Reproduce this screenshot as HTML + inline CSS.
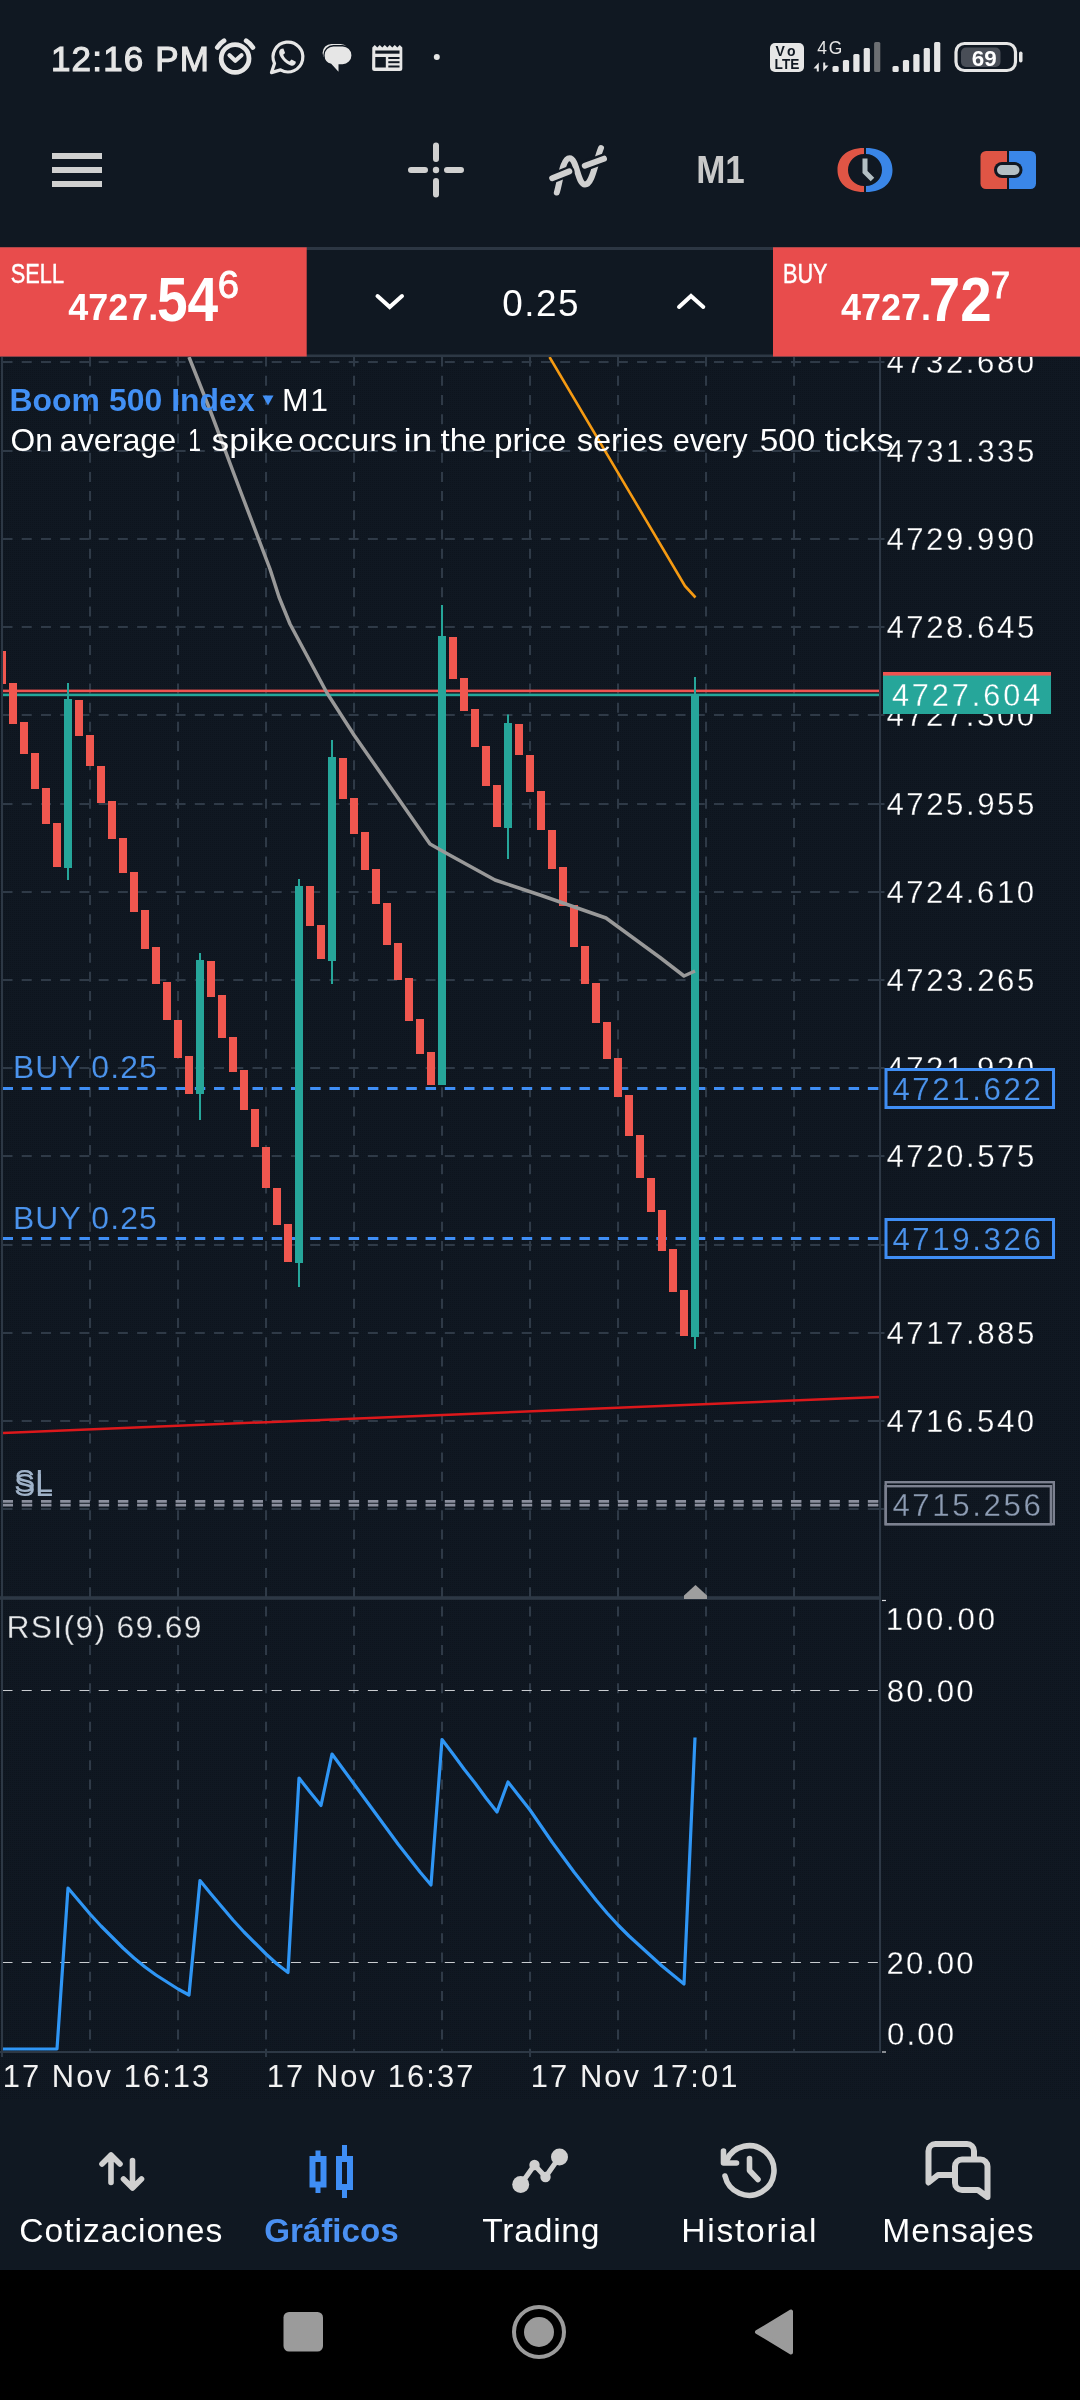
<!DOCTYPE html>
<html lang="es"><head><meta charset="utf-8"><title>Boom 500 Index, M1</title>
<meta name="viewport" content="width=1080">
<style>html,body{margin:0;padding:0;background:#101822;}body{width:1080px;height:2400px;overflow:hidden;}svg{display:block;will-change:transform;}</style>
</head><body>
<svg width="1080" height="2400" viewBox="0 0 1080 2400" font-family="'Liberation Sans', sans-serif">
<rect width="1080" height="2400" fill="#101822"/>
<defs><clipPath id="cp"><rect x="3" y="357" width="877" height="1695"/></clipPath></defs>
<defs><pattern id="dt" width="2" height="2" patternUnits="userSpaceOnUse"><rect width="1" height="1" fill="#0a1119"/></pattern></defs>
<rect x="0" y="357" width="1080" height="1742" fill="url(#dt)" opacity="0.55"/>
<g id="chart">
<g stroke="#2f3a47" stroke-width="2" stroke-dasharray="10 9.23" fill="none">
<path d="M90 356.5V2051"/>
<path d="M178 356.5V2051"/>
<path d="M266 356.5V2051"/>
<path d="M354 356.5V2051"/>
<path d="M442 356.5V2051"/>
<path d="M530 356.5V2051"/>
<path d="M618 356.5V2051"/>
<path d="M706 356.5V2051"/>
<path d="M794 356.5V2051"/>
<path d="M2.5 362.0H879"/>
<path d="M2.5 451.0H879"/>
<path d="M2.5 539.0H879"/>
<path d="M2.5 627.0H879"/>
<path d="M2.5 715.0H879"/>
<path d="M2.5 804.0H879"/>
<path d="M2.5 892.0H879"/>
<path d="M2.5 980.0H879"/>
<path d="M2.5 1068.0H879"/>
<path d="M2.5 1156.0H879"/>
<path d="M2.5 1245.0H879"/>
<path d="M2.5 1333.0H879"/>
<path d="M2.5 1421.0H879"/>
<path d="M2.5 1509.0H879"/>
</g>
<rect x="872" y="361" width="12.5" height="2" fill="#2f3a47"/>
<rect x="872" y="450" width="12.5" height="2" fill="#2f3a47"/>
<rect x="872" y="538" width="12.5" height="2" fill="#2f3a47"/>
<rect x="872" y="626" width="12.5" height="2" fill="#2f3a47"/>
<rect x="872" y="714" width="12.5" height="2" fill="#2f3a47"/>
<rect x="872" y="803" width="12.5" height="2" fill="#2f3a47"/>
<rect x="872" y="891" width="12.5" height="2" fill="#2f3a47"/>
<rect x="872" y="979" width="12.5" height="2" fill="#2f3a47"/>
<rect x="872" y="1067" width="12.5" height="2" fill="#2f3a47"/>
<rect x="872" y="1155" width="12.5" height="2" fill="#2f3a47"/>
<rect x="872" y="1244" width="12.5" height="2" fill="#2f3a47"/>
<rect x="872" y="1332" width="12.5" height="2" fill="#2f3a47"/>
<rect x="872" y="1420" width="12.5" height="2" fill="#2f3a47"/>
<rect x="872" y="1508" width="12.5" height="2" fill="#2f3a47"/>
<g stroke="#c9ccd0" stroke-width="1.2" stroke-dasharray="10 9.23" fill="none">
<path d="M2.5 1690.5H885"/><path d="M2.5 1962.5H885"/></g>
<g clip-path="url(#cp)">
<rect x="3" y="689.6" width="876" height="2.6" fill="#ef5350"/>
<rect x="3" y="693.6" width="876" height="2.6" fill="#26a69a"/>
<g stroke="#3f8ef5" stroke-width="3" stroke-dasharray="10.5 8.73" fill="none">
<path d="M2.5 1088.5H879"/><path d="M2.5 1238.5H879"/></g>
<g stroke="#8b8f9d" stroke-width="2.8" stroke-dasharray="10.5 8.73" fill="none">
<path d="M2.5 1501.4H879"/><path d="M2.5 1505.1H879"/></g>
<g fill="#f0574f">
<rect x="-2" y="651" width="8" height="33"/>
<rect x="9" y="683" width="8" height="41"/>
<rect x="20" y="722" width="8" height="32"/>
<rect x="31" y="753" width="8" height="36"/>
<rect x="42" y="788" width="8" height="36"/>
<rect x="53" y="823" width="8" height="44"/>
<rect x="75" y="700" width="8" height="36"/>
<rect x="86" y="735" width="8" height="31"/>
<rect x="97" y="766" width="8" height="37"/>
<rect x="108" y="801" width="8" height="38"/>
<rect x="119" y="838" width="8" height="35"/>
<rect x="130" y="872" width="8" height="40"/>
<rect x="141" y="910" width="8" height="39"/>
<rect x="152" y="947" width="8" height="37"/>
<rect x="163" y="982" width="8" height="38"/>
<rect x="174" y="1020" width="8" height="38"/>
<rect x="185" y="1056" width="8" height="38"/>
<rect x="207" y="961" width="8" height="36"/>
<rect x="218" y="995" width="8" height="43"/>
<rect x="229" y="1037" width="8" height="35"/>
<rect x="240" y="1070" width="8" height="40"/>
<rect x="251" y="1109" width="8" height="38"/>
<rect x="262" y="1147" width="8" height="41"/>
<rect x="273" y="1188" width="8" height="37"/>
<rect x="284" y="1224" width="8" height="38"/>
<rect x="306" y="886" width="8" height="40"/>
<rect x="317" y="925" width="8" height="34"/>
<rect x="339" y="758" width="8" height="41"/>
<rect x="350" y="798" width="8" height="36"/>
<rect x="361" y="832" width="8" height="38"/>
<rect x="372" y="869" width="8" height="35"/>
<rect x="383" y="903" width="8" height="42"/>
<rect x="394" y="943" width="8" height="37"/>
<rect x="405" y="978" width="8" height="43"/>
<rect x="416" y="1019" width="8" height="35"/>
<rect x="427" y="1052" width="8" height="33"/>
<rect x="449" y="637" width="8" height="42"/>
<rect x="460" y="678" width="8" height="33"/>
<rect x="471" y="709" width="8" height="38"/>
<rect x="482" y="746" width="8" height="40"/>
<rect x="493" y="785" width="8" height="42"/>
<rect x="515" y="724" width="8" height="31"/>
<rect x="526" y="755" width="8" height="37"/>
<rect x="537" y="791" width="8" height="39"/>
<rect x="548" y="830" width="8" height="39"/>
<rect x="559" y="867" width="8" height="39"/>
<rect x="570" y="905" width="8" height="42"/>
<rect x="581" y="946" width="8" height="38"/>
<rect x="592" y="983" width="8" height="40"/>
<rect x="603" y="1022" width="8" height="37"/>
<rect x="614" y="1058" width="8" height="39"/>
<rect x="625" y="1095" width="8" height="41"/>
<rect x="636" y="1135" width="8" height="43"/>
<rect x="647" y="1178" width="8" height="34"/>
<rect x="658" y="1210" width="8" height="41"/>
<rect x="669" y="1249" width="8" height="43"/>
<rect x="680" y="1290" width="8" height="46"/>
</g>
<g fill="#26a69a">
<rect x="64" y="699" width="8" height="169"/><rect x="67" y="683" width="2" height="197"/>
<rect x="196" y="960" width="8" height="134"/><rect x="199" y="953" width="2" height="167"/>
<rect x="295" y="886" width="8" height="377"/><rect x="298" y="879" width="2" height="408"/>
<rect x="328" y="757" width="8" height="204"/><rect x="331" y="740" width="2" height="244"/>
<rect x="438" y="636" width="8" height="449"/><rect x="441" y="605" width="2" height="480"/>
<rect x="504" y="723" width="8" height="105"/><rect x="507" y="714.5" width="2" height="144.5"/>
<rect x="691" y="695" width="8" height="642"/><rect x="694" y="677" width="2" height="672"/>
</g>
<polyline fill="none" stroke="#999999" stroke-width="3.5" stroke-linejoin="round" points="189,357 210,410 240,490 270,569 279,597 290,624 327,693 354,735 430,844 445,852.5 495,880 540,895 606,918 660,957.5 684,976 695,971"/>
<polyline fill="none" stroke="#f59a12" stroke-width="2.6" stroke-linejoin="round" points="549.5,357 685,586 695.5,597.5"/>
<path d="M3 1433L879 1397" stroke="#dc181b" stroke-width="2.5" fill="none"/>
<polyline fill="none" stroke="#2f96f5" stroke-width="3.2" stroke-linejoin="round" points="2,2049 13,2049 24,2049 35,2049 46,2049 57,2049 68,1888 79,1901 90,1914 101,1926 112,1937 123,1948 134,1958 145,1967 156,1975 167,1982 178,1989 189,1995 200,1880.5 211,1894 222,1907 233,1920 244,1932 255,1943 266,1954 277,1964 288,1972.5 299,1778 310,1792 321,1805.5 332,1754 343,1769 354,1784 365,1799 376,1814 387,1829 398,1844 409,1858 420,1872 431,1885 442,1739.5 453,1754 464,1769 475,1783 486,1798 497,1812 508,1782 519,1796 530,1810 541,1826 552,1842 563,1857 574,1872 585,1886 596,1900 607,1913 618,1925 629,1936 640,1946 651,1956 662,1966 673,1975 684,1984 695,1737.5"/>
</g>
<rect x="1" y="357" width="2" height="1695" fill="#2d3845"/>
<rect x="879" y="357" width="2" height="1696" fill="#2d3845"/>
<rect x="0" y="1596.200" width="881" height="3.600" fill="#2d3845"/>
<rect x="0" y="2051" width="881" height="2" fill="#2d3845"/>
<rect x="1" y="2051" width="2" height="6" fill="#2d3845"/>
<rect x="265" y="2051" width="2" height="6" fill="#2d3845"/>
<rect x="529" y="2051" width="2" height="6" fill="#2d3845"/>
<path d="M684 1599V1595.500L695.500 1585L707 1595.500V1599Z" fill="#9e9e9e"/>
<rect x="882" y="1599.9" width="4" height="1.2" fill="#d8dadd"/>
<rect x="882" y="2051.4" width="4" height="1.2" fill="#d8dadd"/>
</g>
<g id="labels">
<text x="9.43" y="410.5" font-size="31.88" font-weight="bold" fill="#4290f5" text-anchor="start" textLength="245.20" lengthAdjust="spacing">Boom 500 Index</text>
<path d="M262.5 395.5H273.5L268 405.5Z" fill="#4290f5"/>
<text x="281.95" y="410.5" font-size="31.88" font-weight="normal" fill="#fff" text-anchor="start" textLength="45.96" lengthAdjust="spacing">M1</text>
<text y="450.7" font-size="31.30" font-weight="normal" fill="#fff"><tspan x="10.57" textLength="42.30" lengthAdjust="spacingAndGlyphs">On</tspan> <tspan x="59.71" textLength="116.54" lengthAdjust="spacingAndGlyphs">average</tspan> <tspan x="188.28" textLength="12.79" lengthAdjust="spacingAndGlyphs">1</tspan> <tspan x="211.62" textLength="82.27" lengthAdjust="spacingAndGlyphs">spike</tspan> <tspan x="298.16" textLength="99.03" lengthAdjust="spacingAndGlyphs">occurs</tspan> <tspan x="403.60" textLength="28.74" lengthAdjust="spacingAndGlyphs">in</tspan> <tspan x="440.51" textLength="45.82" lengthAdjust="spacingAndGlyphs">the</tspan> <tspan x="494.00" textLength="72.43" lengthAdjust="spacingAndGlyphs">price</tspan> <tspan x="576.69" textLength="86.88" lengthAdjust="spacingAndGlyphs">series</tspan> <tspan x="672.78" textLength="74.73" lengthAdjust="spacingAndGlyphs">every</tspan> <tspan x="759.67" textLength="55.62" lengthAdjust="spacingAndGlyphs">500</tspan> <tspan x="824.48" textLength="69.23" lengthAdjust="spacingAndGlyphs">ticks</tspan></text>
<text x="12.95" y="1078.0" font-size="31.88" font-weight="normal" fill="#4b93ec" text-anchor="start" textLength="143.90" lengthAdjust="spacing" stroke="#101822" stroke-width="0.15">BUY 0.25</text>
<text x="12.95" y="1228.5" font-size="31.88" font-weight="normal" fill="#4b93ec" text-anchor="start" textLength="143.90" lengthAdjust="spacing" stroke="#101822" stroke-width="0.15">BUY 0.25</text>
<text x="14.07" y="1491.5" font-size="31.88" font-weight="normal" fill="#9fb2c8" text-anchor="start" textLength="38.99" lengthAdjust="spacingAndGlyphs">SL</text>
<text x="14.07" y="1495.5" font-size="31.88" font-weight="normal" fill="#9fb2c8" text-anchor="start" textLength="38.99" lengthAdjust="spacingAndGlyphs">SL</text>
<text x="6.45" y="1638.0" font-size="31.88" font-weight="normal" fill="#e6e8ea" text-anchor="start" textLength="194.97" lengthAdjust="spacing" stroke="#101822" stroke-width="0.3">RSI(9) 69.69</text>
<text x="886.38" y="373.0" font-size="31.21" font-weight="normal" fill="#fff" text-anchor="start" textLength="147.75" lengthAdjust="spacing" stroke="#101822" stroke-width="0.3">4732.680</text>
<text x="886.38" y="462.0" font-size="31.21" font-weight="normal" fill="#fff" text-anchor="start" textLength="147.90" lengthAdjust="spacing" stroke="#101822" stroke-width="0.3">4731.335</text>
<text x="886.38" y="550.0" font-size="31.21" font-weight="normal" fill="#fff" text-anchor="start" textLength="147.75" lengthAdjust="spacing" stroke="#101822" stroke-width="0.3">4729.990</text>
<text x="886.38" y="638.0" font-size="31.21" font-weight="normal" fill="#fff" text-anchor="start" textLength="147.90" lengthAdjust="spacing" stroke="#101822" stroke-width="0.3">4728.645</text>
<text x="886.38" y="726.0" font-size="31.21" font-weight="normal" fill="#fff" text-anchor="start" textLength="147.75" lengthAdjust="spacing" stroke="#101822" stroke-width="0.3">4727.300</text>
<text x="886.38" y="815.0" font-size="31.21" font-weight="normal" fill="#fff" text-anchor="start" textLength="147.90" lengthAdjust="spacing" stroke="#101822" stroke-width="0.3">4725.955</text>
<text x="886.38" y="903.0" font-size="31.21" font-weight="normal" fill="#fff" text-anchor="start" textLength="147.75" lengthAdjust="spacing" stroke="#101822" stroke-width="0.3">4724.610</text>
<text x="886.38" y="991.0" font-size="31.21" font-weight="normal" fill="#fff" text-anchor="start" textLength="147.90" lengthAdjust="spacing" stroke="#101822" stroke-width="0.3">4723.265</text>
<text x="886.38" y="1079.0" font-size="31.21" font-weight="normal" fill="#fff" text-anchor="start" textLength="147.75" lengthAdjust="spacing" stroke="#101822" stroke-width="0.3">4721.920</text>
<text x="886.38" y="1167.0" font-size="31.21" font-weight="normal" fill="#fff" text-anchor="start" textLength="147.90" lengthAdjust="spacing" stroke="#101822" stroke-width="0.3">4720.575</text>
<text x="886.38" y="1344.0" font-size="31.21" font-weight="normal" fill="#fff" text-anchor="start" textLength="147.90" lengthAdjust="spacing" stroke="#101822" stroke-width="0.3">4717.885</text>
<text x="886.38" y="1432.0" font-size="31.21" font-weight="normal" fill="#fff" text-anchor="start" textLength="147.75" lengthAdjust="spacing" stroke="#101822" stroke-width="0.3">4716.540</text>
<rect x="883" y="672" width="168" height="42" fill="#26a69a"/><rect x="883" y="672" width="168" height="3.6" fill="#ef5350"/>
<text x="891.89" y="706.0" font-size="30.64" font-weight="normal" fill="#fff" text-anchor="start" textLength="148.41" lengthAdjust="spacing" stroke="#26a69a" stroke-width="0.3">4727.604</text>
<rect x="886" y="1069.5" width="167.5" height="38" fill="#101822"/><rect x="886" y="1069.5" width="167.5" height="38" fill="url(#dt)" opacity="0.55" stroke="none"/>
<rect x="886" y="1069.5" width="167.5" height="38" fill="none" stroke="#3f8ef5" stroke-width="3"/>
<text x="892.38" y="1099.5" font-size="31.21" font-weight="normal" fill="#4b93ec" text-anchor="start" textLength="148.56" lengthAdjust="spacing" stroke="#101822" stroke-width="0.15">4721.622</text>
<rect x="886" y="1219.5" width="167.5" height="38" fill="#101822"/><rect x="886" y="1219.5" width="167.5" height="38" fill="url(#dt)" opacity="0.55" stroke="none"/>
<rect x="886" y="1219.5" width="167.5" height="38" fill="none" stroke="#3f8ef5" stroke-width="3"/>
<text x="892.38" y="1249.5" font-size="31.21" font-weight="normal" fill="#4b93ec" text-anchor="start" textLength="148.40" lengthAdjust="spacing" stroke="#101822" stroke-width="0.15">4719.326</text>
<rect x="884" y="1480" width="172" height="46" fill="#101822"/><rect x="884" y="1480" width="172" height="46" fill="url(#dt)" opacity="0.55"/>
<rect x="885.7" y="1482.2" width="168.1" height="42" fill="none" stroke="#7c8190" stroke-width="2.4"/>
<rect x="885.7" y="1486.2" width="165.2" height="38" fill="none" stroke="#7c8190" stroke-width="2.4"/>
<text x="892.38" y="1516.0" font-size="31.21" font-weight="normal" fill="#8d9cb3" text-anchor="start" textLength="148.40" lengthAdjust="spacing" stroke="#101822" stroke-width="0.3">4715.256</text>
<text x="885.66" y="1629.5" font-size="31.21" font-weight="normal" fill="#fff" text-anchor="start" textLength="109.39" lengthAdjust="spacing" stroke="#101822" stroke-width="0.3">100.00</text>
<text x="886.75" y="1702.0" font-size="31.21" font-weight="normal" fill="#fff" text-anchor="start" textLength="86.92" lengthAdjust="spacing" stroke="#101822" stroke-width="0.3">80.00</text>
<text x="886.44" y="1974.0" font-size="31.21" font-weight="normal" fill="#fff" text-anchor="start" textLength="87.23" lengthAdjust="spacing" stroke="#101822" stroke-width="0.3">20.00</text>
<text x="886.91" y="2044.5" font-size="31.21" font-weight="normal" fill="#fff" text-anchor="start" textLength="67.23" lengthAdjust="spacing" stroke="#101822" stroke-width="0.3">0.00</text>
<text x="2.69" y="2086.5" font-size="30.86" font-weight="normal" fill="#f2f2f2" text-anchor="start" textLength="206.51" lengthAdjust="spacing">17 Nov 16:13</text>
<text x="266.69" y="2086.5" font-size="30.86" font-weight="normal" fill="#f2f2f2" text-anchor="start" textLength="206.67" lengthAdjust="spacing">17 Nov 16:37</text>
<text x="530.69" y="2086.5" font-size="30.86" font-weight="normal" fill="#f2f2f2" text-anchor="start" textLength="206.67" lengthAdjust="spacing">17 Nov 17:01</text>
</g>
<g id="status">
<text x="50.98" y="70.8" font-size="35.00" font-weight="normal" fill="#e6e6e6" text-anchor="start" textLength="158.04" lengthAdjust="spacing" stroke="#e6e6e6" stroke-width="1.1">12:16 PM</text>
<g fill="none" stroke="#e6e6e6" stroke-linecap="round">
<circle cx="235.1" cy="58.5" r="13.9" stroke-width="4.8"/>
<path d="M217.300 47.400A21 21 0 0 1 224 40.700M246.200 40.700A21 21 0 0 1 252.900 47.400" stroke-width="4.800"/>
<path d="M229.500 55.200L235.300 60.800L241.500 55.200" stroke-width="4.200" stroke-linejoin="round"/></g>
<g fill="none" stroke="#e6e6e6" stroke-width="3.200" stroke-linejoin="round">
<path d="M271.500 72.600L274.500 63.400A14.900 14.900 0 1 1 280.500 69.900Z"/></g>
<path d="M281.600 48.700c-1.500.3-2.700 2.000-2.400 4.200c.6 4.300 5.500 10.300 11.600 12.500c2.200.8 4.000-.3 4.700-1.800l.4-1.800l-4.400-2.400l-2.000 2.000c-2.900-1.200-5.200-3.600-6.300-6.600l1.900-1.800l-1.700-4.500z" fill="#e6e6e6"/>
<path d="M331.400 43.900h9.200a8.800 8.800 0 0 1 8.800 8.800v0.200a8.800 8.800 0 0 1 -8.800 8.800h-9.200a8.800 8.800 0 0 1 -8.800-8.800v-0.200a8.800 8.800 0 0 1 8.800-8.800z" fill="#e6e6e6"/>
<path d="M333.400 46.400h9.200a8.800 8.800 0 0 1 8.800 8.800v0.200a8.800 8.800 0 0 1 -8.800 8.800h-4.100v7.600l-7.300-8.000a8.800 8.800 0 0 1 -6.600-8.400v-0.200a8.800 8.800 0 0 1 8.800-8.800z" fill="#e6e6e6" stroke="#101822" stroke-width="2.600"/>
<path d="M333.400 46.400h9.200a8.800 8.800 0 0 1 8.800 8.800v0.200a8.800 8.800 0 0 1 -8.800 8.800h-4.100v7.600l-7.300-8.000a8.800 8.800 0 0 1 -6.600-8.400v-0.200a8.800 8.800 0 0 1 8.800-8.800z" fill="#e6e6e6"/>
<path d="M372.3 47.500l2.5-2.500l2.5 2.500l2.5-2.500l2.5 2.500l2.5-2.500l2.5 2.500l2.5-2.500l2.5 2.500l2.5-2.500l2.5 2.500l2.5-2.500l2.5 2.500v21.000a2.5 2.5 0 0 1 -2.5 2.500h-25.200a2.5 2.5 0 0 1 -2.5-2.500z" fill="#e6e6e6"/>
<g fill="#101822"><rect x="375.3" y="50.5" width="24.2" height="3.2"/><rect x="375.3" y="57.0" width="10.5" height="10.5"/><rect x="388.3" y="57.0" width="11.2" height="2.0"/><rect x="388.3" y="61.2" width="11.2" height="2.0"/><rect x="388.3" y="65.5" width="11.2" height="2.0"/></g>
<circle cx="436.8" cy="57" r="3.0" fill="#e6e6e6"/>
<rect x="770" y="43" width="34" height="29" rx="5" fill="#e6e6e6"/>
<text x="775.43" y="56.3" font-size="14.00" font-weight="bold" fill="#101822" text-anchor="start" textLength="20.04" lengthAdjust="spacing">Vo</text>
<text x="774.61" y="68.5" font-size="13.71" font-weight="bold" fill="#101822" text-anchor="start" textLength="24.86" lengthAdjust="spacingAndGlyphs">LTE</text>
<text x="817.15" y="54.0" font-size="17.43" font-weight="normal" fill="#e6e6e6" text-anchor="start" textLength="25.14" lengthAdjust="spacing">4G</text>
<path d="M813.5 68.500l5.3-6.000v9.000h-2.000v-3.000zM828.5 65.500l-5.3 6.000v-9.000h2.000v3.000z" fill="#e6e6e6"/>
<rect x="832.5" y="66" width="6.2" height="6" rx="1.5" fill="#e6e6e6"/>
<rect x="842.9" y="60" width="6.2" height="12" rx="1.5" fill="#e6e6e6"/>
<rect x="853.3" y="54" width="6.2" height="18" rx="1.5" fill="#e6e6e6"/>
<rect x="863.7" y="48" width="6.2" height="24" rx="1.5" fill="#e6e6e6"/>
<rect x="874.1" y="42" width="6.2" height="30" rx="1.5" fill="#6c6f73"/>
<rect x="892.5" y="66" width="6.2" height="6" rx="1.5" fill="#e6e6e6"/>
<rect x="902.9" y="60" width="6.2" height="12" rx="1.5" fill="#e6e6e6"/>
<rect x="913.3" y="54" width="6.2" height="18" rx="1.5" fill="#e6e6e6"/>
<rect x="923.7" y="48" width="6.2" height="24" rx="1.5" fill="#e6e6e6"/>
<rect x="934.1" y="42" width="6.2" height="30" rx="1.5" fill="#e6e6e6"/>
<rect x="956" y="43.5" width="59.5" height="27" rx="8.5" fill="none" stroke="#e6e6e6" stroke-width="3.2"/>
<rect x="1019" y="51.5" width="3.5" height="11" rx="1.7" fill="#e6e6e6"/>
<rect x="961" y="47.5" width="39.5" height="19.5" rx="5" fill="#494e57"/>
<text x="971.72" y="65.8" font-size="22.41" font-weight="bold" fill="#fff" text-anchor="start" textLength="25.12" lengthAdjust="spacing">69</text>
</g>
<g id="toolbar">
<rect x="52" y="153" width="50" height="6" fill="#d0d0d0"/>
<rect x="52" y="167" width="50" height="6" fill="#d0d0d0"/>
<rect x="52" y="181" width="50" height="6" fill="#d0d0d0"/>
<g stroke="#d0d0d0" stroke-width="6" stroke-linecap="round" fill="none">
<path d="M411 170H425M447 170H461M436 145.500V159M436 181V194.500"/></g>
<circle cx="436" cy="170" r="3.200" fill="#d0d0d0"/>
<g stroke-linecap="round" fill="none">
<path d="M556.800 192.500C560.500 180 562.500 158.300 569.600 158.300C577 158.300 577.500 184.400 585 184.400C592.500 184.400 595 163 601 148" stroke="#d0d0d0" stroke-width="6"/>
<path d="M552.200 178.200L569.300 171.400M584.800 165.700L604 158.700" stroke="#101822" stroke-width="10.500"/>
<path d="M552.200 178.200L569.300 171.400M584.800 165.700L604 158.700" stroke="#d0d0d0" stroke-width="6"/></g>
<text x="696.23" y="182.6" font-size="39.13" font-weight="bold" fill="#c9c9c9" text-anchor="start" textLength="48.62" lengthAdjust="spacingAndGlyphs">M1</text>
<path d="M864 148C846 148 837.500 158 837.500 170C837.500 182 846 192 864 192V186A16 16 0 0 1 864 154Z" fill="#e05545"/>
<path d="M866 148C884 148 892.500 158 892.500 170C892.500 182 884 192 866 192V186A16 16 0 0 0 866 154Z" fill="#3a86e8"/>
<path d="M865 158.500V172L872.500 179.500" stroke="#b3bfc4" stroke-width="5" fill="none" stroke-linejoin="miter"/>
<path d="M986 151H1007V189H986A5.500 5.500 0 0 1 980.500 183.500V156.500A5.500 5.500 0 0 1 986 151Z" fill="#e05545"/>
<path d="M1009 151H1030.500A5.500 5.500 0 0 1 1036 156.500V183.500A5.500 5.500 0 0 1 1030.500 189H1009Z" fill="#3a86e8"/>
<rect x="994" y="162" width="28.500" height="16" rx="8" fill="#101822"/>
<rect x="997" y="165" width="22.500" height="10" rx="5" fill="#b3bfc4"/>
</g>
<g id="dealbar">
<rect x="0" y="247" width="1080" height="110" fill="#101822"/>
<rect x="0" y="247" width="1080" height="3" fill="#2c3643"/>
<rect x="0" y="354.500" width="1080" height="2.500" fill="#2d3845"/>
<rect x="0" y="247.300" width="306.700" height="109.200" fill="#e84c4c"/>
<rect x="773" y="247.300" width="307" height="109.200" fill="#e84c4c"/>
<text x="10.82" y="282.5" font-size="27.54" font-weight="normal" fill="#fff" text-anchor="start" textLength="53.16" lengthAdjust="spacingAndGlyphs" stroke="#fff" stroke-width="0.5">SELL</text>
<text x="68.16" y="320.4" font-size="37.73" font-weight="bold" fill="#fff" text-anchor="start" textLength="89.97" lengthAdjust="spacingAndGlyphs">4727.</text>
<text x="156.95" y="320.8" font-size="62.94" font-weight="bold" fill="#fff" text-anchor="start" textLength="61.28" lengthAdjust="spacingAndGlyphs">54</text>
<text x="217.69" y="297.6" font-size="38.30" font-weight="normal" fill="#fff" text-anchor="start" textLength="21.69" lengthAdjust="spacing" stroke="#fff" stroke-width="0.9">6</text>
<text x="783.07" y="282.5" font-size="27.54" font-weight="normal" fill="#fff" text-anchor="start" textLength="44.39" lengthAdjust="spacingAndGlyphs" stroke="#fff" stroke-width="0.5">BUY</text>
<text x="840.96" y="320.4" font-size="37.73" font-weight="bold" fill="#fff" text-anchor="start" textLength="89.97" lengthAdjust="spacingAndGlyphs">4727.</text>
<text x="928.74" y="320.8" font-size="62.94" font-weight="bold" fill="#fff" text-anchor="start" textLength="62.87" lengthAdjust="spacingAndGlyphs">72</text>
<text x="990.86" y="298.0" font-size="36.88" font-weight="normal" fill="#fff" text-anchor="start" textLength="19.35" lengthAdjust="spacingAndGlyphs" stroke="#fff" stroke-width="0.9">7</text>
<text x="502.21" y="316.0" font-size="36.88" font-weight="normal" fill="#fff" text-anchor="start" textLength="76.31" lengthAdjust="spacing">0.25</text>
<g stroke="#fff" stroke-width="4" fill="none" stroke-linecap="round" stroke-linejoin="miter">
<path d="M377.500 296L389.700 307L402 296"/><path d="M679 307L691 296L703.300 307"/></g>
</g>
<g id="nav">
<rect x="0" y="2100" width="1080" height="170" fill="#101822"/>
<g stroke="#d0d0d0" stroke-width="5.600" stroke-linecap="round" stroke-linejoin="round" fill="none">
<path d="M111 2155V2182.500M102 2164L111 2155L120 2164"/>
<path d="M132.500 2160.500V2187.500M123.500 2179L132.500 2188L141.500 2179"/></g>
<g fill="#3f8ef5">
<rect x="315.500" y="2150.500" width="5" height="42.500"/><rect x="342" y="2145" width="5" height="53"/></g>
<g fill="#101822" stroke="#3f8ef5" stroke-width="6">
<rect x="312.500" y="2159" width="11" height="25.500"/><rect x="339" y="2159" width="11" height="28"/></g>
<g stroke="#d0d0d0" stroke-width="5" fill="none" stroke-linejoin="round"><path d="M520.700 2184.500L534.500 2165L545.500 2177L559.500 2157"/></g>
<g fill="#d0d0d0"><circle cx="520.700" cy="2184.500" r="8.500"/><circle cx="534.500" cy="2165" r="5.200"/><circle cx="545.500" cy="2177" r="5.200"/><circle cx="559.500" cy="2157" r="8.500"/></g>
<g stroke="#d0d0d0" stroke-width="5.600" fill="none" stroke-linecap="round" stroke-linejoin="round">
<path d="M726.500 2160.500A24.800 24.800 0 1 1 725 2176"/>
<path d="M723.500 2151V2163H736.500"/>
<path d="M749.500 2158.500V2170.500L758 2179.500"/></g>
<g stroke="#d0d0d0" stroke-width="6" fill="none" stroke-linejoin="round">
<path d="M955 2175H938L928.500 2182.500V2151A7 7 0 0 1 935.500 2144H967A7 7 0 0 1 974 2151V2159"/>
<path d="M962 2159.500H980.500A7 7 0 0 1 987.500 2166.500V2197L978 2190H962A7 7 0 0 1 955 2183V2166.500A7 7 0 0 1 962 2159.500Z"/></g>
<text x="19.32" y="2242.0" font-size="33.62" font-weight="normal" fill="#fff" text-anchor="start" textLength="202.87" lengthAdjust="spacing">Cotizaciones</text>
<text x="264.17" y="2242.0" font-size="33.62" font-weight="bold" fill="#4a90f2" text-anchor="start" textLength="134.56" lengthAdjust="spacingAndGlyphs">Gráficos</text>
<text x="482.33" y="2242.0" font-size="33.62" font-weight="normal" fill="#fff" text-anchor="start" textLength="117.15" lengthAdjust="spacing">Trading</text>
<text x="681.31" y="2242.0" font-size="33.62" font-weight="normal" fill="#fff" text-anchor="start" textLength="135.17" lengthAdjust="spacing">Historial</text>
<text x="882.31" y="2242.0" font-size="33.62" font-weight="normal" fill="#fff" text-anchor="start" textLength="151.36" lengthAdjust="spacing">Mensajes</text>
</g>
<g id="sysnav">
<rect x="0" y="2270" width="1080" height="130" fill="#000"/>
<rect x="283.500" y="2312" width="39.500" height="39.500" rx="5.500" fill="#9b9b9b"/>
<circle cx="539" cy="2332" r="25" fill="none" stroke="#9b9b9b" stroke-width="4"/><circle cx="539" cy="2332" r="15" fill="#9b9b9b"/>
<path d="M757 2332L791 2311.500V2352.500Z" fill="#9b9b9b" stroke="#9b9b9b" stroke-width="4" stroke-linejoin="round"/>
</g>
</svg>
</body></html>
